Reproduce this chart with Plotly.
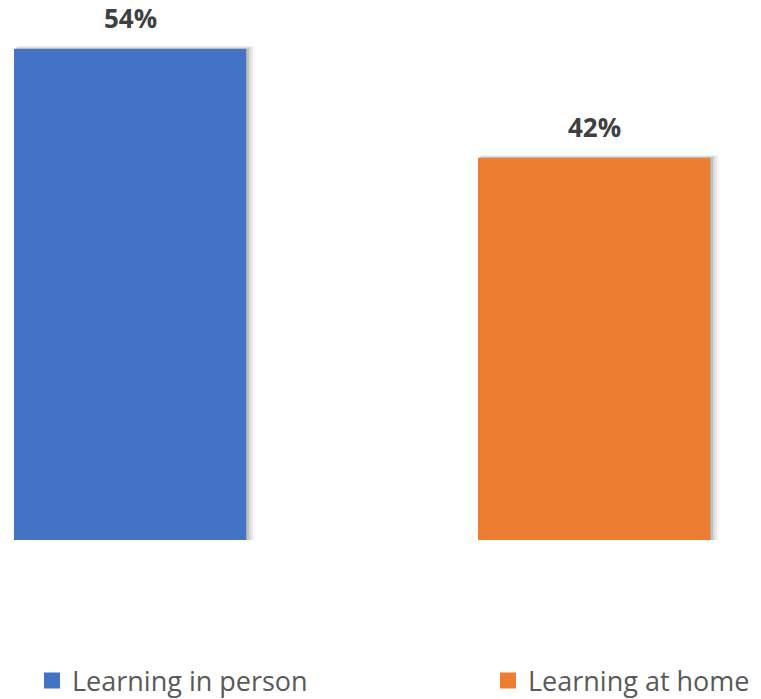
import plotly.graph_objects as go

categories = ["Learning in person", "Learning at home"]
values = [54, 42]
labels = ["54%", "42%"]
colors = ["#4472C4", "#ED7D31"]

W, H = 761, 699
px_per_x = 464.0
x_lo = -0.25 - 14 / px_per_x
x_hi = x_lo + W / px_per_x
plot_h = 540
y_hi = plot_h / (491 / 54)
legend_x_px = [32, 488]

fig = go.Figure()
legend_names = ["legend", "legend2"]
for i, (cat, v, c) in enumerate(zip(categories, values, colors)):
    fig.add_trace(go.Bar(
        x=[i], y=[v], name=cat, width=0.5,
        marker=dict(color=c, line=dict(width=0)),
        showlegend=False, hoverinfo="skip",
    ))
    fig.add_trace(go.Scatter(
        x=[None], y=[None], mode="markers", name=cat,
        marker=dict(symbol="square", size=18, color=c),
        showlegend=True, legend=legend_names[i],
    ))
    dx = 1 / px_per_x
    dy = 1 / (plot_h / y_hi)
    for k, op in [(1, 0.12), (3, 0.10), (5, 0.07), (7, 0.05), (9, 0.03)]:
        fig.add_shape(type="rect", xref="x", yref="y", layer="below",
                      x0=i - 0.25 + (k - 1) * dx * 0.4, x1=i + 0.25 + k * dx,
                      y0=0 - k * dy * 0.4, y1=v + k * dy * 0.35,
                      line=dict(width=0), fillcolor=f"rgba(0,0,0,{op})")
    fig.add_annotation(x=i, y=v, text=f"<b>{labels[i]}</b>", showarrow=False,
                       yanchor="bottom", yshift=11,
                       font=dict(family="Open Sans", size=26, color="#404040"))

leg_common = dict(orientation="h", xanchor="left",
                  y=-(681 - plot_h) / plot_h, yanchor="middle",
                  font=dict(family="Open Sans", size=27, color="#595959"),
                  bgcolor="rgba(0,0,0,0)", borderwidth=0)

fig.update_layout(
    width=W, height=H,
    margin=dict(l=0, r=0, t=0, b=H - plot_h, pad=0, autoexpand=False),
    paper_bgcolor="white", plot_bgcolor="white",
    xaxis=dict(range=[x_lo, x_hi], visible=False, fixedrange=True),
    yaxis=dict(range=[0, y_hi], visible=False, fixedrange=True),
    showlegend=True,
    legend=dict(x=legend_x_px[0] / W, **leg_common),
    legend2=dict(x=legend_x_px[1] / W, **leg_common),
)
fig.write_html("out.html", config={"displayModeBar": False},
               post_script="document.body.style.margin='0';")
